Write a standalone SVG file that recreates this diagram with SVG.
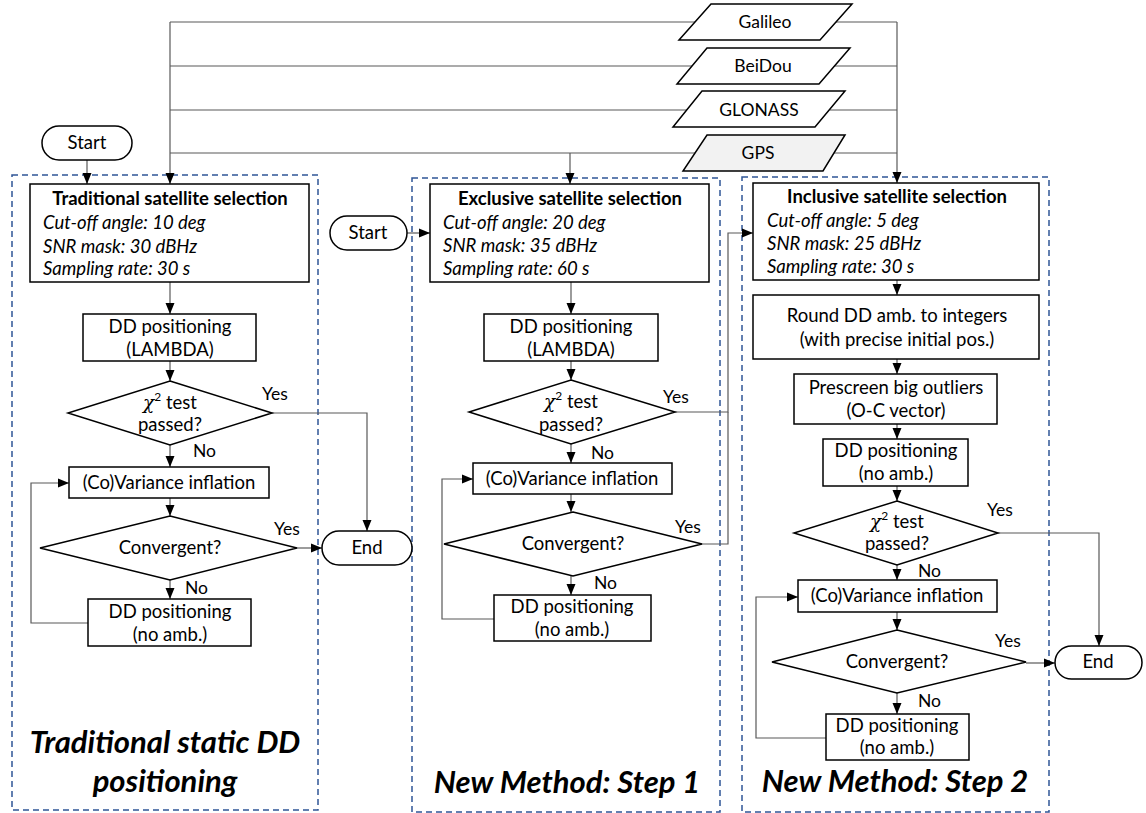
<svg xmlns="http://www.w3.org/2000/svg" width="1146" height="813" viewBox="0 0 1146 813">
  <style>
    text { font-family: Lato, "Open Sans", "Liberation Sans", sans-serif; font-size: 18.5px; fill: #000; }
    .c { text-anchor: middle; }
    .b { font-weight: bold; }
    .i { font-style: italic; }
    .lbl { font-size: 17.5px; }
    .sat { font-size: 17.5px; text-anchor: middle; }
    .big { font-size: 31px; font-weight: bold; font-style: italic; text-anchor: middle; }
    .math { font-family: "DejaVu Serif", "Liberation Serif", serif; font-style: italic; }
    .sup { font-size: 12px; }
    .box { fill: #fff; stroke: #000; stroke-width: 1.5; }
    .gray { fill: #f2f2f2; stroke: #000; stroke-width: 1.5; }
    .frame { fill: none; stroke: #2f5597; stroke-width: 1.5; stroke-dasharray: 6 4; }
    .wire { fill: none; stroke: #595959; stroke-width: 1.2; }
    .arr { marker-end: url(#ah); }
  </style>
  <defs>
    <marker id="ah" markerUnits="userSpaceOnUse" markerWidth="12" markerHeight="12" viewBox="0 0 12 12" refX="11" refY="6" orient="auto">
      <path d="M0,1.5 L11,6 L0,10.5 Z" fill="#000"/>
    </marker>
  </defs>

  <!-- dashed frames for the three procedures -->
  <g id="frames">
    <rect class="frame" x="12" y="175" width="306" height="635"/>
    <rect class="frame" x="412" y="178" width="308" height="634"/>
    <rect class="frame" x="742" y="177" width="307" height="635"/>
  </g>

  <!-- connectors -->
  <g id="connectors">
    <!-- constellation feeds -->
    <path class="wire arr" d="M170,22 V184"/>
    <path class="wire" d="M170,22 H695 M170,66 H692 M170,110 H688 M170,153 H695"/>
    <path class="wire arr" d="M570,153 V184"/>
    <path class="wire" d="M836,22 H897 M834,66 H897 M830,110 H897 M834,153 H897"/>
    <path class="wire arr" d="M897,22 V183"/>
    <!-- starts -->
    <path class="wire arr" d="M87,160 V184"/>
    <path class="wire arr" d="M407,233 H430"/>
    <!-- traditional -->
    <path class="wire arr" d="M170,282 V314"/>
    <path class="wire arr" d="M170,361 V381"/>
    <path class="wire arr" d="M170,445 V467"/>
    <path class="wire arr" d="M170,498 V516"/>
    <path class="wire arr" d="M170,580 V599"/>
    <path class="wire arr" d="M88,623 H31 V483 H69"/>
    <path class="wire arr" d="M272,413 H367 V531"/>
    <path class="wire arr" d="M297,548 H322"/>
    <!-- step 1 -->
    <path class="wire arr" d="M571,282 V314"/>
    <path class="wire arr" d="M571,361 V380"/>
    <path class="wire arr" d="M571,444 V463"/>
    <path class="wire arr" d="M571,494 V512"/>
    <path class="wire arr" d="M571,576 V595"/>
    <path class="wire arr" d="M494,619 H442 V479 H473"/>
    <path class="wire arr" d="M675,412 H728 V233 H753"/>
    <path class="wire" d="M702,544 H728 V412"/>
    <!-- step 2 -->
    <path class="wire arr" d="M897,280 V295"/>
    <path class="wire arr" d="M897,359 V374"/>
    <path class="wire arr" d="M897,424 V439"/>
    <path class="wire arr" d="M897,486 V501"/>
    <path class="wire arr" d="M897,565 V580"/>
    <path class="wire arr" d="M897,612 V630"/>
    <path class="wire arr" d="M897,693 V714"/>
    <path class="wire arr" d="M826,738 H756 V597 H798"/>
    <path class="wire arr" d="M998,533 H1099 V646"/>
    <path class="wire arr" d="M1026,663 H1055"/>
  </g>

  <!-- constellations -->
  <g id="galileo">
    <polygon class="box" points="711,4 852,4 820,40 679,40"/>
    <text class="sat" x="765" y="28">Galileo</text>
  </g>
  <g id="beidou">
    <polygon class="box" points="707,48 850,48 819,84 677,84"/>
    <text class="sat" x="763" y="72">BeiDou</text>
  </g>
  <g id="glonass">
    <polygon class="box" points="702,91 845,91 815,127 673,127"/>
    <text class="sat" x="759" y="116">GLONASS</text>
  </g>
  <g id="gps">
    <polygon class="gray" points="707,135 845,135 823,171 683,171"/>
    <text class="sat" x="758" y="159">GPS</text>
  </g>

  <!-- traditional static DD positioning -->
  <g id="start1">
    <rect class="box" x="42" y="126" width="90" height="34" rx="17"/>
    <text class="c" x="87" y="149">Start</text>
  </g>
  <g id="trad-select">
    <rect class="box" x="30" y="184" width="279" height="98"/>
    <text class="c b" x="170" y="205">Traditional satellite selection</text>
    <text class="i" x="43" y="229">Cut-off angle: 10 deg</text>
    <text class="i" x="43" y="253">SNR mask: 30 dBHz</text>
    <text class="i" x="43" y="275">Sampling rate: 30 s</text>
  </g>
  <g id="trad-lambda">
    <rect class="box" x="83" y="314" width="173" height="47"/>
    <text class="c" x="170" y="333">DD positioning</text>
    <text class="c" x="170" y="356">(LAMBDA)</text>
  </g>
  <g id="trad-chi2">
    <polygon class="box" points="170,381 272,413 170,445 68,413"/>
    <text class="c" x="170" y="409"><tspan class="math">χ</tspan><tspan class="sup" dy="-8">2</tspan><tspan dy="8"> test</tspan></text>
    <text class="c" x="170" y="431">passed?</text>
    <text class="lbl" x="262" y="400">Yes</text>
    <text class="lbl" x="193" y="457">No</text>
  </g>
  <g id="trad-inflate">
    <rect class="box" x="69" y="467" width="200" height="31"/>
    <text class="c" x="169" y="489">(Co)Variance inflation</text>
  </g>
  <g id="trad-conv">
    <polygon class="box" points="170,516 297,548 170,580 40,548"/>
    <text class="c" x="170" y="554">Convergent?</text>
    <text class="lbl" x="274" y="535">Yes</text>
    <text class="lbl" x="185" y="594">No</text>
  </g>
  <g id="trad-noamb">
    <rect class="box" x="88" y="599" width="163" height="47"/>
    <text class="c" x="170" y="618">DD positioning</text>
    <text class="c" x="170" y="641">(no amb.)</text>
  </g>
  <g id="end1">
    <rect class="box" x="322" y="531" width="90" height="34" rx="17"/>
    <text class="c" x="367" y="554">End</text>
  </g>
  <text class="big" x="165" y="753">Traditional static DD</text>
  <text class="big" x="165" y="792">positioning</text>

  <!-- new method, step 1 -->
  <g id="start2">
    <rect class="box" x="330" y="216" width="77" height="34" rx="17"/>
    <text class="c" x="368" y="239">Start</text>
  </g>
  <g id="excl-select">
    <rect class="box" x="430" y="184" width="279" height="98"/>
    <text class="c b" x="570" y="205">Exclusive satellite selection</text>
    <text class="i" x="443" y="229">Cut-off angle: 20 deg</text>
    <text class="i" x="443" y="252">SNR mask: 35 dBHz</text>
    <text class="i" x="443" y="275">Sampling rate: 60 s</text>
  </g>
  <g id="s1-lambda">
    <rect class="box" x="484" y="314" width="174" height="47"/>
    <text class="c" x="571" y="333">DD positioning</text>
    <text class="c" x="571" y="356">(LAMBDA)</text>
  </g>
  <g id="s1-chi2">
    <polygon class="box" points="571,380 675,412 571,444 469,412"/>
    <text class="c" x="571" y="408"><tspan class="math">χ</tspan><tspan class="sup" dy="-8">2</tspan><tspan dy="8"> test</tspan></text>
    <text class="c" x="571" y="431">passed?</text>
    <text class="lbl" x="663" y="403">Yes</text>
    <text class="lbl" x="591" y="459">No</text>
  </g>
  <g id="s1-inflate">
    <rect class="box" x="473" y="463" width="199" height="31"/>
    <text class="c" x="572" y="485">(Co)Variance inflation</text>
  </g>
  <g id="s1-conv">
    <polygon class="box" points="573,512 702,544 573,576 444,544"/>
    <text class="c" x="573" y="550">Convergent?</text>
    <text class="lbl" x="675" y="533">Yes</text>
    <text class="lbl" x="594" y="589">No</text>
  </g>
  <g id="s1-noamb">
    <rect class="box" x="494" y="595" width="157" height="46"/>
    <text class="c" x="572" y="613">DD positioning</text>
    <text class="c" x="572" y="636">(no amb.)</text>
  </g>
  <text class="big" x="567" y="793">New Method: Step 1</text>

  <!-- new method, step 2 -->
  <g id="incl-select">
    <rect class="box" x="753" y="183" width="286" height="97"/>
    <text class="c b" x="897" y="203">Inclusive satellite selection</text>
    <text class="i" x="767" y="227">Cut-off angle: 5 deg</text>
    <text class="i" x="767" y="250">SNR mask: 25 dBHz</text>
    <text class="i" x="767" y="273">Sampling rate: 30 s</text>
  </g>
  <g id="s2-round">
    <rect class="box" x="753" y="295" width="286" height="64"/>
    <text class="c" x="897" y="322">Round DD amb. to integers</text>
    <text class="c" x="897" y="346">(with precise initial pos.)</text>
  </g>
  <g id="s2-prescreen">
    <rect class="box" x="794" y="374" width="203" height="50"/>
    <text class="c" x="896" y="394">Prescreen big outliers</text>
    <text class="c" x="896" y="417">(O-C vector)</text>
  </g>
  <g id="s2-float">
    <rect class="box" x="823" y="439" width="145" height="47"/>
    <text class="c" x="896" y="457">DD positioning</text>
    <text class="c" x="896" y="480">(no amb.)</text>
  </g>
  <g id="s2-chi2">
    <polygon class="box" points="897,501 998,533 897,565 794,533"/>
    <text class="c" x="897" y="528"><tspan class="math">χ</tspan><tspan class="sup" dy="-8">2</tspan><tspan dy="8"> test</tspan></text>
    <text class="c" x="897" y="550">passed?</text>
    <text class="lbl" x="987" y="516">Yes</text>
    <text class="lbl" x="918" y="577">No</text>
  </g>
  <g id="s2-inflate">
    <rect class="box" x="798" y="580" width="199" height="32"/>
    <text class="c" x="897" y="602">(Co)Variance inflation</text>
  </g>
  <g id="s2-conv">
    <polygon class="box" points="897,630 1026,662 897,693 772,662"/>
    <text class="c" x="897" y="668">Convergent?</text>
    <text class="lbl" x="995" y="647">Yes</text>
    <text class="lbl" x="918" y="707">No</text>
  </g>
  <g id="s2-noamb">
    <rect class="box" x="826" y="714" width="143" height="46"/>
    <text class="c" x="897" y="732">DD positioning</text>
    <text class="c" x="897" y="754">(no amb.)</text>
  </g>
  <g id="end2">
    <rect class="box" x="1055" y="646" width="87" height="33" rx="16.5"/>
    <text class="c" x="1098" y="668">End</text>
  </g>
  <text class="big" x="895" y="792">New Method: Step 2</text>
</svg>
